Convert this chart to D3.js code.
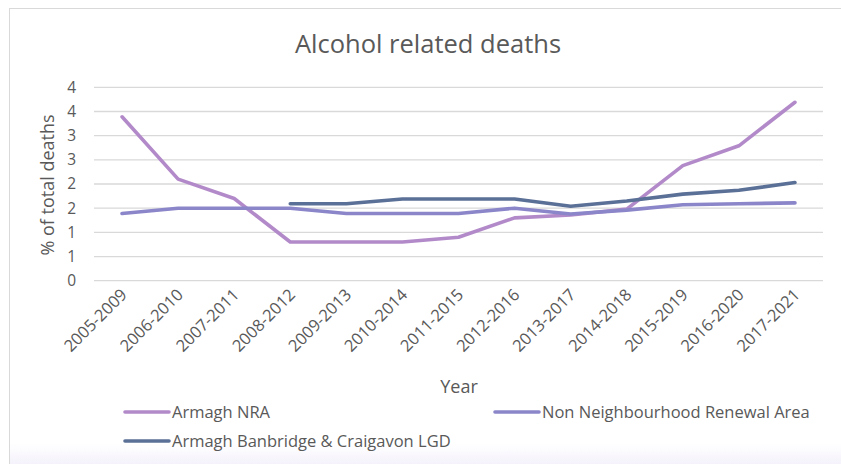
<!DOCTYPE html>
<html>
<head>
<meta charset="utf-8">
<script src="https://cdn.jsdelivr.net/npm/d3@7"></script>
<style>
  html, body { margin: 0; padding: 0; background: #ffffff; }
  svg { display: block; }
  text { font-family: "Open Sans", "Noto Sans", sans-serif; fill: #595959; }
</style>
</head>
<body>
<svg id="chart" width="841" height="464"></svg>
<script>
const categories = ["2005-2009","2006-2010","2007-2011","2008-2012","2009-2013","2010-2014","2011-2015","2012-2016","2013-2017","2014-2018","2015-2019","2016-2020","2017-2021"];
const armaghNRA = [3.39, 2.10, 1.70, 0.80, 0.80, 0.80, 0.90, 1.30, 1.36, 1.48, 2.38, 2.79, 3.69];
const nonNRA    = [1.39, 1.50, 1.50, 1.50, 1.39, 1.39, 1.39, 1.50, 1.38, 1.46, 1.57, 1.59, 1.61];
const lgd       = [null, null, null, 1.59, 1.59, 1.69, 1.69, 1.69, 1.54, 1.65, 1.79, 1.87, 2.03];
const seriesNames = ["Armagh NRA", "Non Neighbourhood Renewal Area", "Armagh Banbridge & Craigavon LGD"];
const yTicks = [0, 0.5, 1, 1.5, 2, 2.5, 3, 3.5, 4];
const yTickLabels = ["0", "1", "1", "2", "2", "3", "3", "4", "4"];
const titleText = "Alcohol related deaths";
const yTitle = "% of total deaths";
const xTitle = "Year";

const colors = ["#b38ac9", "#8b86c9", "#5b7097"];
const series = [armaghNRA, nonNRA, lgd];

const svg = d3.select("#chart");

// background / frame
const defs = svg.append("defs");
const grad = defs.append("linearGradient").attr("id", "bg").attr("x1", 0).attr("y1", 0).attr("x2", 0).attr("y2", 1);
grad.append("stop").attr("offset", "0.94").attr("stop-color", "#ffffff");
grad.append("stop").attr("offset", "1").attr("stop-color", "#f2eefa");
svg.append("rect").attr("x", 9.5).attr("y", 8.5).attr("width", 840).attr("height", 462)
  .attr("fill", "url(#bg)").attr("stroke", "#d9d9d9").attr("stroke-width", 1);

const plotLeft = 94, plotRight = 823, plotTop = 87.3, plotBottom = 280.7;

const x = d3.scaleBand().domain(categories).range([plotLeft, plotRight]);
const y = d3.scaleLinear().domain([0, 4]).range([plotBottom, plotTop]);

// gridlines
svg.append("g").selectAll("line").data(yTicks).join("line")
  .attr("x1", plotLeft).attr("x2", plotRight)
  .attr("y1", d => y(d)).attr("y2", d => y(d))
  .attr("stroke", "#d9d9d9").attr("stroke-width", 1.3);

// y axis labels
const yAxis = d3.axisLeft(y).tickValues(yTicks).tickFormat((d, i) => yTickLabels[i]).tickSize(0).tickPadding(0);
const gy = svg.append("g").attr("transform", `translate(76,0)`).call(yAxis);
gy.select(".domain").remove();
gy.selectAll("text").style("font-size", "15.5px").attr("fill", "#595959").attr("font-family", "Open Sans");

// x axis labels
const xAxis = d3.axisBottom(x).tickSize(0).tickPadding(0);
const gx = svg.append("g").attr("transform", `translate(0,${plotBottom})`).call(xAxis);
gx.select(".domain").remove();
gx.selectAll("text")
  .attr("text-anchor", "end")
  .attr("dy", null).attr("y", 0)
  .attr("transform", "translate(6,15) rotate(-45)")
  .style("font-size", "16.5px").attr("fill", "#595959").attr("font-family", "Open Sans");

// lines
const line = d3.line()
  .defined(d => d != null)
  .x((d, i) => x(categories[i]) + x.bandwidth() / 2)
  .y(d => y(d));

[0, 1, 2].forEach(k => {
  svg.append("path")
    .datum(series[k])
    .attr("fill", "none")
    .attr("stroke", colors[k])
    .attr("stroke-width", 3.6)
    .attr("stroke-linejoin", "round")
    .attr("stroke-linecap", "round")
    .attr("d", line);
});

// title
svg.append("text").attr("x", 428).attr("y", 53).attr("text-anchor", "middle")
  .style("font-size", "25.5px").text(titleText);

// axis titles
svg.append("text").attr("transform", "translate(54,185) rotate(-90)").attr("text-anchor", "middle")
  .style("font-size", "18px").text(yTitle);
svg.append("text").attr("x", 459).attr("y", 393).attr("text-anchor", "middle")
  .style("font-size", "18px").text(xTitle);

// legend
const legendPos = [[125, 412], [495, 412], [125, 441]];
seriesNames.forEach((name, k) => {
  const [lx, ly] = legendPos[k];
  svg.append("line").attr("x1", lx).attr("x2", lx + 44).attr("y1", ly).attr("y2", ly)
    .attr("stroke", colors[k]).attr("stroke-width", 3.6).attr("stroke-linecap", "round");
  svg.append("text").attr("x", lx + 47).attr("y", ly + 6)
    .style("font-size", "16.5px").text(name);
});
</script>
</body>
</html>
